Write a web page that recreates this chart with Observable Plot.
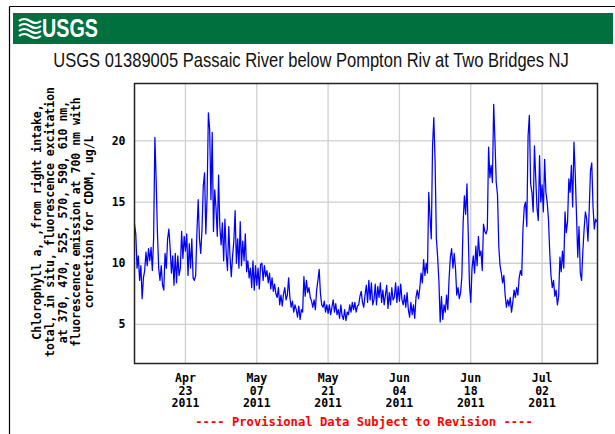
<!DOCTYPE html>
<html><head><meta charset="utf-8">
<script src="https://cdn.jsdelivr.net/npm/d3@7"></script>
<script src="https://cdn.jsdelivr.net/npm/@observablehq/plot@0.6"></script>
<style>
body{margin:0;background:#fff;}
#wrap{position:relative;width:615px;height:434px;overflow:hidden;}
</style></head><body><div id="wrap"></div>
<script>
const siteTitle = "USGS 01389005 Passaic River below Pompton Riv at Two Bridges NJ";
const agencyName = "USGS";
const yLabelLines = [
  "Chlorophyll a, ,from right intake,",
  "total, in situ, fluorescence excitation",
  "at 370, 470, 525, 570, 590, 610 nm,",
  "fluorescence emission at 700 nm with",
  "correction for CDOM, ug/L"
];
const footerNote = "---- Provisional Data Subject to Revision ----";
const startTime = "2011-04-13T00:00:00Z";
const stepHours = 6;
const chlorophyll = [
  13.2,12.4,9.6,10.6, 8.6,9.8,7.1,8.8, 9.4,10.9,9.8,11.2, 10.2,11.3,9.4,12.0,
  20.3,16.8,12.5,9.6, 8.6,9.8,8.2,7.8, 10.8,9.6,12.0,12.8, 11.2,9.2,10.6,8.2,
  10.8,8.4,10.6,9.0, 9.6,12.6,10.4,12.2, 11.0,12.4,9.0,11.6, 9.6,12.0,8.8,8.6,
  9.0,12.5,15.2,12.0, 10.8,12.8,16.3,17.4, 12.4,15.5,22.3,21.0, 15.2,20.7,12.6,16.0,
  14.5,12.2,17.2,13.0, 11.5,13.3,10.2,13.6, 10.8,9.4,13.0,10.5, 8.9,10.6,11.8,14.3,
  10.0,12.0,9.6,13.4, 9.8,11.8,10.2,12.4, 9.3,10.2,8.8,9.6, 8.0,10.2,7.8,9.8,
  8.2,9.6,7.9,9.9, 10.0,8.6,9.8,8.9, 9.4,8.4,9.2,7.9, 8.8,7.7,8.3,7.5,
  7.2,8.0,6.6,7.4, 6.5,7.5,8.0,7.0, 7.4,8.8,7.2,6.4, 6.9,6.0,6.6,6.2,
  5.6,6.5,5.4,6.2, 6.0,8.9,7.3,8.6, 7.6,8.0,7.2,6.9, 6.4,7.0,6.2,7.8,
  8.6,9.5,7.5,6.6, 6.4,6.9,6.0,6.6, 5.9,6.6,5.8,6.4, 7.0,6.0,6.7,5.8,
  6.2,5.5,6.6,5.7, 5.4,6.2,5.3,6.0, 5.8,6.6,6.0,6.8, 6.2,6.8,6.0,6.5,
  6.6,7.3,7.7,6.8, 6.4,7.4,8.2,6.8, 8.6,7.0,8.4,6.6, 7.0,8.3,6.6,8.1,
  7.2,8.4,6.8,7.8, 6.6,7.4,8.2,6.3, 7.6,6.6,8.0,7.0, 7.2,8.4,6.8,8.1,
  6.9,8.3,7.0,6.6, 7.4,6.4,7.6,6.2, 5.6,6.8,5.8,6.6, 5.5,7.2,7.8,7.1,
  8.0,9.2,8.4,10.3, 9.0,10.0,9.2,15.8, 13.8,12.0,19.6,21.9, 18.3,12.0,10.5,8.5,
  5.2,7.3,5.4,6.6, 6.0,7.4,6.2,8.8, 10.5,11.2,9.6,10.8, 9.6,7.4,8.0,7.1,
  7.6,8.9,13.3,15.5, 14.0,16.5,12.5,8.2, 6.8,9.6,10.6,9.2, 11.4,9.8,12.2,10.6,
  11.0,9.4,13.2,12.6, 12.4,12.8,19.5,17.0, 18.0,16.6,23.0,20.0, 16.6,15.6,11.4,9.8,
  9.2,8.4,9.0,7.4, 6.4,7.0,6.5,7.2, 6.0,6.8,7.8,7.2, 8.0,7.4,8.8,9.4,
  9.0,12.8,14.6,15.0, 13.0,20.4,22.1,16.5, 15.8,14.2,19.6,17.0, 14.5,13.5,18.8,15.0,
  16.4,14.2,18.5,15.8, 15.0,13.6,10.9,9.0, 8.0,8.6,7.3,7.8, 6.6,7.3,10.5,9.3,
  11.0,9.6,14.2,12.5, 13.4,16.9,15.8,18.0, 14.6,19.9,17.4,14.0, 10.5,13.0,9.2,8.6,
  11.0,12.8,14.2,13.6, 11.8,14.4,17.6,18.2, 14.6,12.8,13.6,13.4
];
const xTickDates = ["2011-04-23","2011-05-07","2011-05-21","2011-06-04","2011-06-18","2011-07-02"];
const yTicks = [5, 10, 15, 20];
const xDomain = ["2011-04-13T00:00:00Z", "2011-07-12T21:00:00Z"];
const yDomain = [1.8, 24.7];

const t0 = new Date(startTime).getTime();
const data = chlorophyll.map((v, i) => ({t: new Date(t0 + i * stepHours * 3600e3), v}));
const ticks = xTickDates.map(d => new Date(d + "T00:00:00Z"));
const fmt = d3.utcFormat("%b\n%d\n%Y");
const mono = "'DejaVu Sans Mono', monospace";

const chart = Plot.plot({
  width: 615, height: 434,
  marginLeft: 134, marginRight: 18, marginTop: 83, marginBottom: 71,
  style: {background: "transparent", fontFamily: mono, fontWeight: "bold", fontSize: "11.5px", color: "#000", overflow: "visible"},
  x: {type: "utc", domain: xDomain.map(d => new Date(d))},
  y: {domain: yDomain},
  marks: [
    Plot.gridX(ticks, {stroke: "#cfcfcf", strokeOpacity: 1, strokeWidth: 1.3}),
    Plot.gridY(yTicks, {stroke: "#cfcfcf", strokeOpacity: 1, strokeWidth: 1.3}),
    Plot.line(data, {x: "t", y: "v", stroke: "#0000ff", strokeWidth: 1.25}),
    Plot.frame({stroke: "#222", strokeWidth: 1.5}),
    Plot.axisX(ticks, {tickSize: 0, tickPadding: 9, tickFormat: fmt, label: null, lineHeight: 1.12, fill: "#000"}),
    Plot.axisY(yTicks, {tickSize: 0, tickPadding: 9, label: null, fill: "#000"})
  ]
});
document.getElementById("wrap").appendChild(chart);

const svg = d3.select(chart);
const deco = svg.append("g").attr("text-anchor", "start");
// page border
deco.append("line").attr("x1", 9.5).attr("x2", 9.5).attr("y1", 6.5).attr("y2", 434).attr("stroke", "#000").attr("stroke-width", 1.2);
deco.append("line").attr("x1", 9.5).attr("x2", 615).attr("y1", 6.5).attr("y2", 6.5).attr("stroke", "#000").attr("stroke-width", 1.2);
// banner
deco.append("rect").attr("x", 13).attr("y", 13).attr("width", 600).attr("height", 31).attr("fill", "#00703f");
const wave = deco.append("g").attr("fill", "none").attr("stroke", "#fff").attr("stroke-width", 2.2);
[21, 26, 31, 36].forEach((y, i) => {
  wave.append("path").attr("d", `M19 ${y} q5 -4 11 0 t11 0`);
});

function fitText(parent, str, x, y, targetWidth, attrs) {
  const g = parent.append("g").attr("transform", `translate(${x},${y})`);
  const t = g.append("text").attr("x", 0).attr("y", 0).attr("text-anchor", "start").text(str);
  Object.entries(attrs).forEach(([k, v]) => t.attr(k, v));
  const w = t.node().getComputedTextLength();
  const s = w > 0 ? targetWidth / w : 1;
  g.attr("transform", `translate(${x},${y}) scale(${s},1)`);
  return t;
}
fitText(deco, agencyName, 42, 37.3, 56, {
  fill: "#fff", "font-family": "'Liberation Sans Narrow', 'Liberation Sans', sans-serif",
  "font-weight": "bold", "font-size": 26
});
fitText(deco, siteTitle, 53.3, 67.3, 516, {
  fill: "#111", "font-family": "'Liberation Sans Narrow', 'Liberation Sans', sans-serif",
  "font-weight": "normal", "font-size": 20
});
// y label
const ylab = deco.append("g").attr("font-family", mono).attr("font-weight", "bold").attr("font-size", 11.5).attr("fill", "#000");
const xs = [36.7, 50, 63.3, 76.3, 89.3];
yLabelLines.forEach((s, i) => {
  ylab.append("text").attr("transform", `translate(${xs[i]},222) rotate(-90)`)
    .attr("text-anchor", "middle").attr("dominant-baseline", "central").text(s);
});
// footer
deco.append("text").attr("x", 364).attr("y", 426).attr("text-anchor", "middle").text(footerNote)
  .attr("fill", "#ff0000").attr("font-family", mono).attr("font-weight", "bold").attr("font-size", 12.2);
</script>
</body></html>
